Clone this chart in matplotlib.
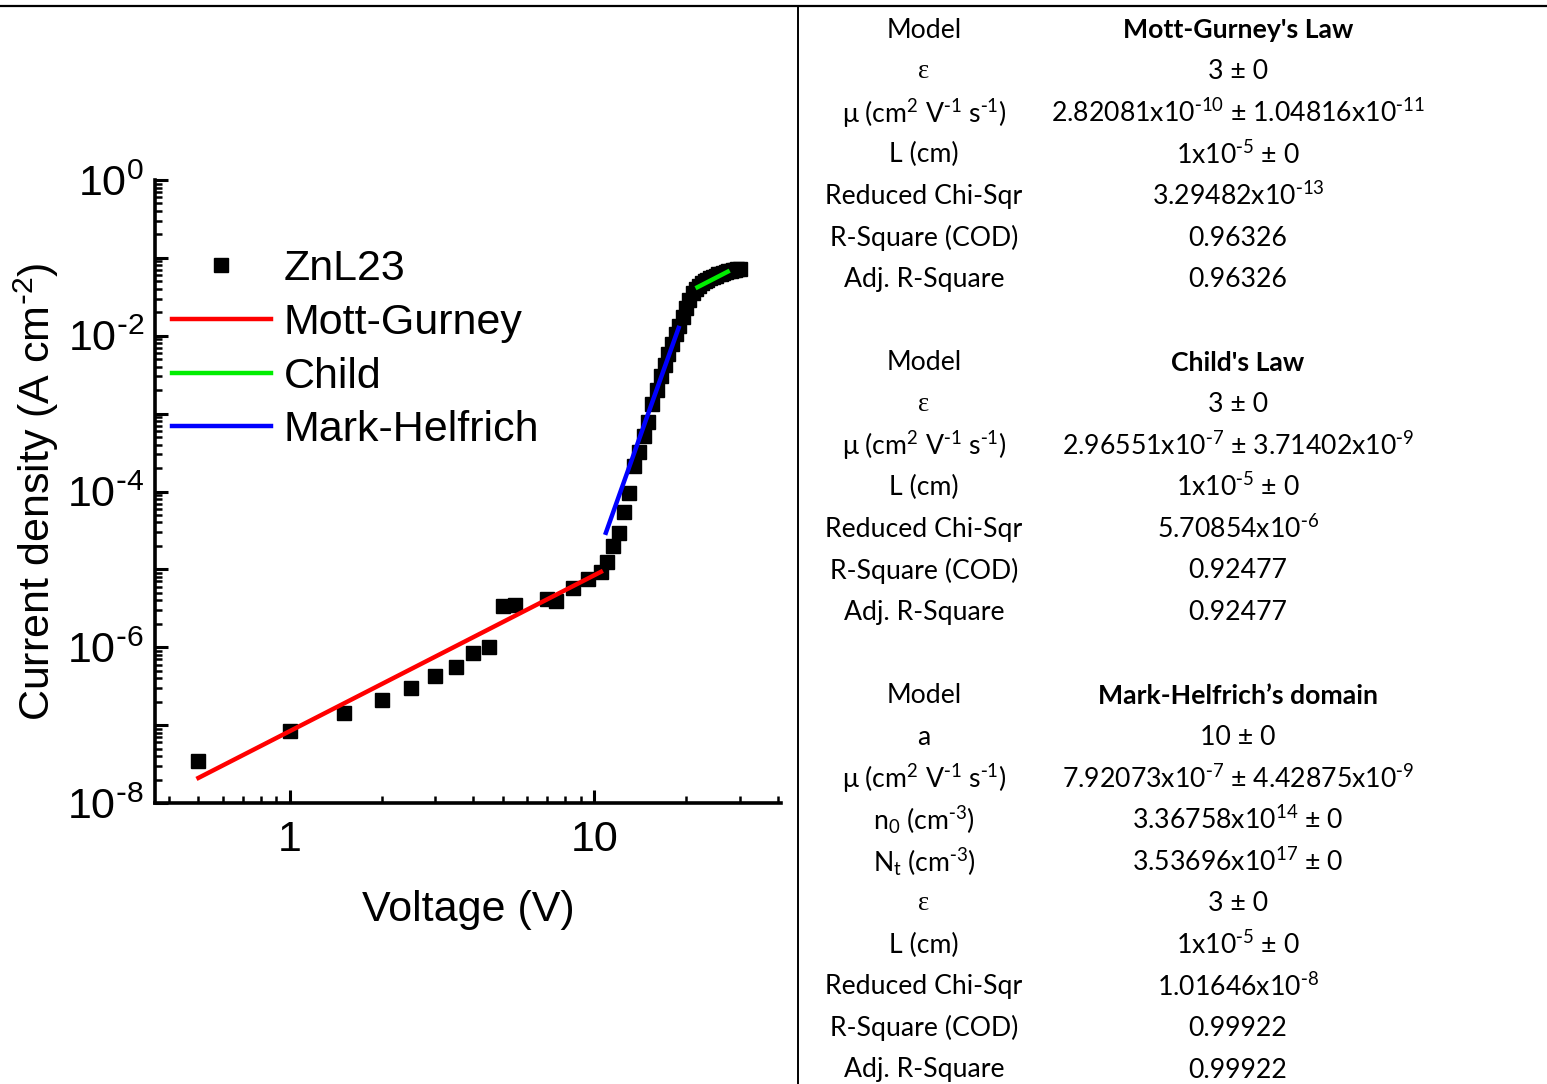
import numpy as np
import matplotlib.pyplot as plt
from matplotlib.ticker import LogLocator, FuncFormatter, NullFormatter
from matplotlib.lines import Line2D

# measured J-V curve of ZnL23
voltage = [0.5, 1, 1.5, 2, 2.5, 3, 3.5, 4, 4.5, 5, 5.5, 7, 7.5, 8.5, 9.5,
           10.5, 11, 11.5, 12, 12.5, 13, 13.5, 14, 14.5,
           15, 15.5, 16, 16.5, 17, 17.5, 18, 18.5, 19, 19.5, 20, 20.5,
           21, 21.5, 22, 22.5, 23, 23.5, 24, 24.5, 25, 25.5, 26, 26.5,
           27, 27.5, 28, 28.5, 29, 29.5, 30]
current = [3.5e-8, 8.5e-8, 1.44e-7, 2.1e-7, 3.0e-7, 4.3e-7, 5.6e-7, 8.4e-7,
           1.0e-6, 3.4e-6, 3.5e-6, 4.2e-6, 3.9e-6, 5.8e-6, 7.6e-6,
           9.3e-6, 1.25e-5, 2.0e-5, 2.9e-5, 5.5e-5, 9.6e-5, 2.1e-4, 3.2e-4, 5.2e-4,
           7.9e-4, 1.32e-3, 2.0e-3, 3.0e-3, 4.2e-3, 5.8e-3, 7.9e-3, 1.05e-2,
           1.32e-2, 1.74e-2, 2.3e-2, 2.9e-2, 3.5e-2, 4.0e-2, 4.4e-2, 4.7e-2,
           5.0e-2, 5.25e-2, 5.5e-2, 5.75e-2, 5.9e-2, 6.15e-2, 6.3e-2, 6.45e-2,
           6.6e-2, 6.75e-2, 6.85e-2, 6.9e-2, 7.0e-2, 7.1e-2, 7.1e-2]

# fitted regions (straight lines on log-log)
mg_v = [0.5, 10.5]
mg_j = [2.1e-8, 9.3e-6]
child_v = [21.8, 27.4]
child_j = [4.2e-2, 6.65e-2]
mh_v = [10.9, 18.9]
mh_j = [2.95e-5, 1.26e-2]


def sup(s):
    # superscript with a plain hyphen instead of the math minus
    return r'$\mathregular{^{%s}}$' % s.replace('-', r'\text{-}')


def sub(s):
    return r'$\mathregular{_{%s}}$' % s


mu_unit = "μ (cm" + sup("2") + " V" + sup("-1") + " s" + sup("-1") + ")"

# fit result tables
mg_title = "Mott-Gurney's Law"
mg_names = ["ε", mu_unit, "L (cm)", "Reduced Chi-Sqr", "R-Square (COD)", "Adj. R-Square"]
mg_values = ["3 ± 0",
             "2.82081x10" + sup("-10") + " ± 1.04816x10" + sup("-11"),
             "1x10" + sup("-5") + " ± 0",
             "3.29482x10" + sup("-13"), "0.96326", "0.96326"]

child_title = "Child's Law"
child_names = mg_names
child_values = ["3 ± 0",
                "2.96551x10" + sup("-7") + " ± 3.71402x10" + sup("-9"),
                "1x10" + sup("-5") + " ± 0",
                "5.70854x10" + sup("-6"), "0.92477", "0.92477"]

mh_title = "Mark-Helfrich\u2019s domain"
mh_names = ["a", mu_unit,
            "n" + sub("0") + " (cm" + sup("-3") + ")",
            "N" + sub("t") + " (cm" + sup("-3") + ")", "ε", "L (cm)",
            "Reduced Chi-Sqr", "R-Square (COD)", "Adj. R-Square"]
mh_values = ["10 ± 0",
             "7.92073x10" + sup("-7") + " ± 4.42875x10" + sup("-9"),
             "3.36758x10" + sup("14") + " ± 0",
             "3.53696x10" + sup("17") + " ± 0",
             "3 ± 0", "1x10" + sup("-5") + " ± 0",
             "1.01646x10" + sup("-8"), "0.99922", "0.99922"]

W, H = 1547, 1084
fig = plt.figure(figsize=(W / 100, H / 100), dpi=100)
plt.rcParams['font.family'] = ['Liberation Sans', 'DejaVu Sans']
fs = 31

ax = fig.add_axes([155 / W, 1 - 803 / H, 626 / W, 623 / H])
ax.plot(voltage, current, 's', color='black', ms=9.5, label='ZnL23', zorder=2)
ax.plot(mg_v, mg_j, color='#ff0000', lw=3.2, label='Mott-Gurney', zorder=3)
ax.plot(child_v, child_j, color='#00ee00', lw=3.2, label='Child', zorder=3)
ax.plot(mh_v, mh_j, color='#0000ff', lw=3.2, label='Mark-Helfrich', zorder=3)

ax.set_xscale('log')
ax.set_yscale('log')
ax.set_xlim(0.36, 41)
ax.set_ylim(1e-8, 1)

ax.xaxis.set_major_locator(LogLocator(base=10, numticks=10))
ax.xaxis.set_minor_locator(LogLocator(base=10, subs=np.arange(2, 10), numticks=50))
ax.xaxis.set_major_formatter(FuncFormatter(lambda v, p: '%g' % v))
ax.xaxis.set_minor_formatter(NullFormatter())

ax.yaxis.set_major_locator(LogLocator(base=10, numticks=20))
ax.yaxis.set_minor_locator(LogLocator(base=10, subs=np.arange(2, 10), numticks=100))


def ylab(v, p):
    e = int(round(np.log10(v)))
    if e % 2:
        return ''
    return '10' + sup(str(e))


ax.yaxis.set_major_formatter(FuncFormatter(ylab))
ax.yaxis.set_minor_formatter(NullFormatter())

for s in ['top', 'right']:
    ax.spines[s].set_visible(False)
for s in ['left', 'bottom']:
    ax.spines[s].set_linewidth(2.6)
ax.tick_params(which='major', direction='in', length=9.5, width=2.2, labelsize=fs)
ax.tick_params(which='minor', direction='in', length=5, width=1.8)
ax.tick_params(axis='x', which='major', pad=12)
ax.tick_params(axis='y', which='major', pad=8)

ax.set_xlabel('Voltage (V)', fontsize=fs, labelpad=22)
ax.set_ylabel('Current density (A cm' + sup('-2') + ')', fontsize=fs, labelpad=4)

ax.legend(loc='upper left', bbox_to_anchor=(0.027, 0.889), frameon=False, fontsize=fs,
          numpoints=1, handlelength=2.3, handletextpad=0.3, labelspacing=0.32,
          borderpad=0, borderaxespad=0)

# table frame
fig.add_artist(Line2D([0, 1], [1 - 6 / H, 1 - 6 / H], color='black', lw=1.6))
fig.add_artist(Line2D([798 / W, 798 / W], [0, 1 - 6 / H], color='black', lw=1.4))

tfont = ['Lato', 'DejaVu Sans']
tfs = 19.2
col1, col2 = 924, 1238
row0, step = 30, 41.6


def put_table(start, title, names, values):
    rows = [("Model", title)] + list(zip(names, values))
    for i, (n, v) in enumerate(rows):
        y = 1 - (row0 + step * (start + i)) / H
        fam = ['Liberation Serif'] if n == "ε" else tfont
        fig.text(col1 / W, y, n, ha='center', va='center', fontsize=tfs, family=fam)
        fig.text(col2 / W, y, v, ha='center', va='center', fontsize=tfs, family=tfont,
                 fontweight='bold' if i == 0 else 'normal')


put_table(0, mg_title, mg_names, mg_values)
put_table(8, child_title, child_names, child_values)
put_table(16, mh_title, mh_names, mh_values)

fig.savefig('out.png', dpi=100)
